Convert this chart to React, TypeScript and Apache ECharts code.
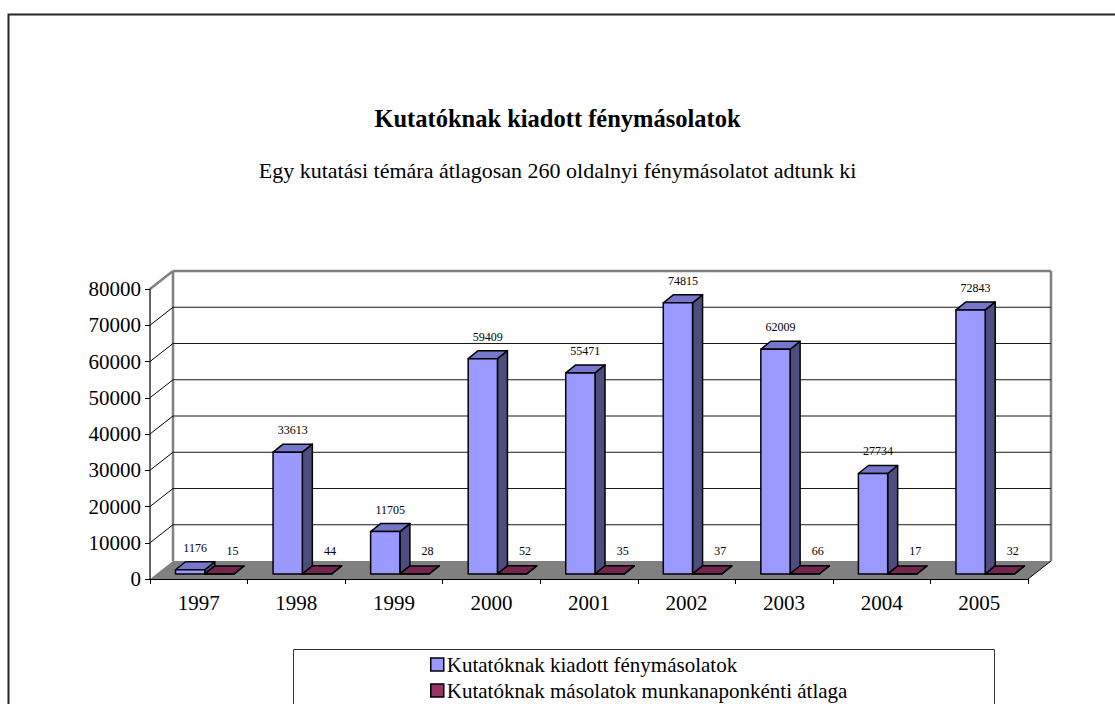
import React, { useEffect, useRef } from "react";
import * as echarts from "echarts";

const years = ["1997", "1998", "1999", "2000", "2001", "2002", "2003", "2004", "2005"];
const copies = [1176, 33613, 11705, 59409, 55471, 74815, 62009, 27734, 72843];
const dailyAvg = [15, 44, 28, 52, 35, 37, 66, 17, 32];
const yTicks = [0, 10000, 20000, 30000, 40000, 50000, 60000, 70000, 80000];

const seriesNames = [
  "Kutatóknak kiadott fénymásolatok",
  "Kutatóknak másolatok munkanaponkénti átlaga",
];
const titleText = "Kutatóknak kiadott fénymásolatok";
const subtitleText = "Egy kutatási témára átlagosan 260 oldalnyi fénymásolatot adtunk ki";

const FONT = "Liberation Serif";
const WALL = { dx: 23, dy: -18 };
const BAR_FRONT = { dx: 6, dy: -5 };
const BAR_DEPTH = { dx: 10, dy: -8 };

function makeBarRender(start: number, width: number, colors: { front: string; top: string; side: string }, labelDx: number, labelDy: number) {
  return (params: any, api: any) => {
    const i = api.value(0);
    const v = api.value(1);
    const b0 = api.coord([i + start, 0]);
    const b1 = api.coord([i + start + width, 0]);
    const t0 = api.coord([i + start, v]);
    const x0 = b0[0] + BAR_FRONT.dx;
    const x1 = b1[0] + BAR_FRONT.dx;
    const yb = b0[1] + BAR_FRONT.dy;
    const yt = t0[1] + BAR_FRONT.dy;
    const ddx = BAR_DEPTH.dx;
    const ddy = BAR_DEPTH.dy;
    const stroke = { stroke: "#000", lineWidth: 1.5, lineJoin: "round" };
    return {
      type: "group",
      children: [
        {
          type: "polygon",
          shape: { points: [[x1, yt], [x1 + ddx, yt + ddy], [x1 + ddx, yb + ddy], [x1, yb]] },
          style: { fill: colors.side, ...stroke },
        },
        {
          type: "polygon",
          shape: { points: [[x0, yt], [x1, yt], [x1 + ddx, yt + ddy], [x0 + ddx, yt + ddy]] },
          style: { fill: colors.top, ...stroke },
        },
        {
          type: "polygon",
          shape: { points: [[x0, yt], [x1, yt], [x1, yb], [x0, yb]] },
          style: { fill: colors.front, ...stroke },
        },
        {
          type: "text",
          z2: 10,
          style: {
            text: String(v),
            x: (x0 + x1) / 2 + ddx / 2 + labelDx,
            y: yt - labelDy,
            align: "center",
            verticalAlign: "middle",
            fontSize: 12,
            fontFamily: FONT,
            fill: "#000",
          },
        },
      ],
    };
  };
}

function renderBackground(params: any, api: any) {
  const v = api.value(0);
  const n = years.length;
  const maxV = yTicks[yTicks.length - 1];
  const p0 = api.coord([0, v]);
  const p1 = api.coord([n, v]);
  const children: any[] = [];
  if (params.dataIndex === 0) {
    const f0 = api.coord([0, 0]);
    const f1 = api.coord([n, 0]);
    const top0 = api.coord([0, maxV]);
    const top1 = api.coord([n, maxV]);
    children.push({
      type: "polygon",
      shape: {
        points: [
          [f0[0], f0[1]],
          [f1[0], f1[1]],
          [f1[0] + WALL.dx, f1[1] + WALL.dy],
          [f0[0] + WALL.dx, f0[1] + WALL.dy],
        ],
      },
      style: { fill: "#808080", stroke: "none" },
    });
    children.push({
      type: "line",
      shape: { x1: f1[0], y1: f1[1], x2: f1[0] + WALL.dx, y2: f1[1] + WALL.dy },
      style: { stroke: "#000", lineWidth: 1 },
    });
    children.push({
      type: "line",
      shape: { x1: f0[0] + WALL.dx, y1: f0[1] + WALL.dy, x2: top0[0] + WALL.dx, y2: top0[1] + WALL.dy },
      style: { stroke: "#808080", lineWidth: 2.5 },
    });
    children.push({
      type: "line",
      shape: { x1: f1[0] + WALL.dx, y1: f1[1] + WALL.dy, x2: top1[0] + WALL.dx, y2: top1[1] + WALL.dy },
      style: { stroke: "#808080", lineWidth: 2.5 },
    });
  }
  if (v > 0) {
    const isTop = v === maxV;
    children.push({
      type: "line",
      shape: { x1: p0[0] + WALL.dx, y1: p0[1] + WALL.dy, x2: p1[0] + WALL.dx, y2: p1[1] + WALL.dy },
      style: { stroke: isTop ? "#808080" : "#1a1a1a", lineWidth: isTop ? 2.5 : 1 },
    });
    children.push({
      type: "line",
      shape: { x1: p0[0], y1: p0[1], x2: p0[0] + WALL.dx, y2: p0[1] + WALL.dy },
      style: { stroke: isTop ? "#808080" : "#000", lineWidth: isTop ? 2.5 : 1 },
    });
  }
  return { type: "group", children };
}

export default function App() {
  const ref = useRef<HTMLDivElement>(null);
  useEffect(() => {
    if (!ref.current) return;
    const chart = echarts.init(ref.current, null, { renderer: "svg" });
    const legendBase = {
      orient: "horizontal",
      left: 425,
      itemWidth: 13,
      itemHeight: 13,
      icon: "rect",
      textStyle: { fontFamily: FONT, fontSize: 21, color: "#000", padding: [0, 0, 0, -2] },
      itemStyle: { borderColor: "#000", borderWidth: 1.5 },
    };
    const option: any = {
      animation: false,
      backgroundColor: "#ffffff",
      textStyle: { fontFamily: FONT },
      title: [
        {
          text: titleText,
          left: "center",
          top: 101,
          textStyle: { fontFamily: FONT, fontSize: 24.5, fontWeight: "bold", color: "#000" },
        },
        {
          text: subtitleText,
          left: "center",
          top: 154,
          textStyle: { fontFamily: FONT, fontSize: 22, fontWeight: "normal", color: "#000" },
        },
      ],
      grid: { left: 150, right: 87, top: 289, bottom: 125, containLabel: false },
      xAxis: [
        {
          type: "category",
          data: years,
          boundaryGap: true,
          axisLine: { lineStyle: { color: "#000", width: 1.2 } },
          axisTick: { show: true, length: 5, lineStyle: { color: "#000" } },
          axisLabel: { fontFamily: FONT, fontSize: 21, color: "#000", margin: 13 },
          splitLine: { show: false },
          z: 5,
        },
        { type: "value", min: 0, max: years.length, show: false },
      ],
      yAxis: {
        type: "value",
        min: 0,
        max: 80000,
        interval: 10000,
        axisLine: { show: true, lineStyle: { color: "#333", width: 1.5 } },
        axisTick: { show: true, length: 5, lineStyle: { color: "#000" } },
        axisLabel: {
          fontFamily: FONT,
          fontSize: 21,
          color: "#000",
          margin: 9,
          formatter: (v: number) => String(v),
        },
        splitLine: { show: false },
        z: 5,
      },
      legend: [
        { ...legendBase, top: 649, data: [seriesNames[0]] },
        { ...legendBase, top: 675, data: [seriesNames[1]] },
      ],
      graphic: [
        {
          type: "rect",
          shape: { x: 8.5, y: 14.5, width: 1200, height: 800 },
          style: { fill: "none", stroke: "#262626", lineWidth: 2 },
        },
        {
          type: "rect",
          shape: { x: 293.5, y: 649.5, width: 701, height: 100 },
          style: { fill: "none", stroke: "#333", lineWidth: 1 },
        },
      ],
      series: [
        {
          type: "custom",
          name: "bg",
          xAxisIndex: 1,
          yAxisIndex: 0,
          z: 1,
          silent: true,
          data: yTicks.map((v) => [v]),
          encode: { y: 0 },
          renderItem: renderBackground,
        },
        {
          type: "custom",
          name: seriesNames[0],
          xAxisIndex: 1,
          yAxisIndex: 0,
          z: 3,
          itemStyle: { color: "#9999FF" },
          data: copies.map((v, i) => [i, v]),
          encode: { x: 0, y: 1 },
          renderItem: makeBarRender(0.2, 0.3, { front: "#9999FF", top: "#7676CC", side: "#4D4D80" }, 0, 22),
        },
        {
          type: "custom",
          name: seriesNames[1],
          xAxisIndex: 1,
          yAxisIndex: 0,
          z: 4,
          itemStyle: { color: "#993366" },
          data: dailyAvg.map((v, i) => [i, v]),
          encode: { x: 0, y: 1 },
          renderItem: makeBarRender(0.5, 0.3, { front: "#993366", top: "#73264D", side: "#4D1A33" }, 8, 23),
        },
      ],
    };
    chart.setOption(option);
    return () => chart.dispose();
  }, []);
  return (
    <div
      ref={ref}
      style={{ position: "absolute", left: 0, top: 0, width: 1115, height: 704, background: "#fff" }}
    />
  );
}
